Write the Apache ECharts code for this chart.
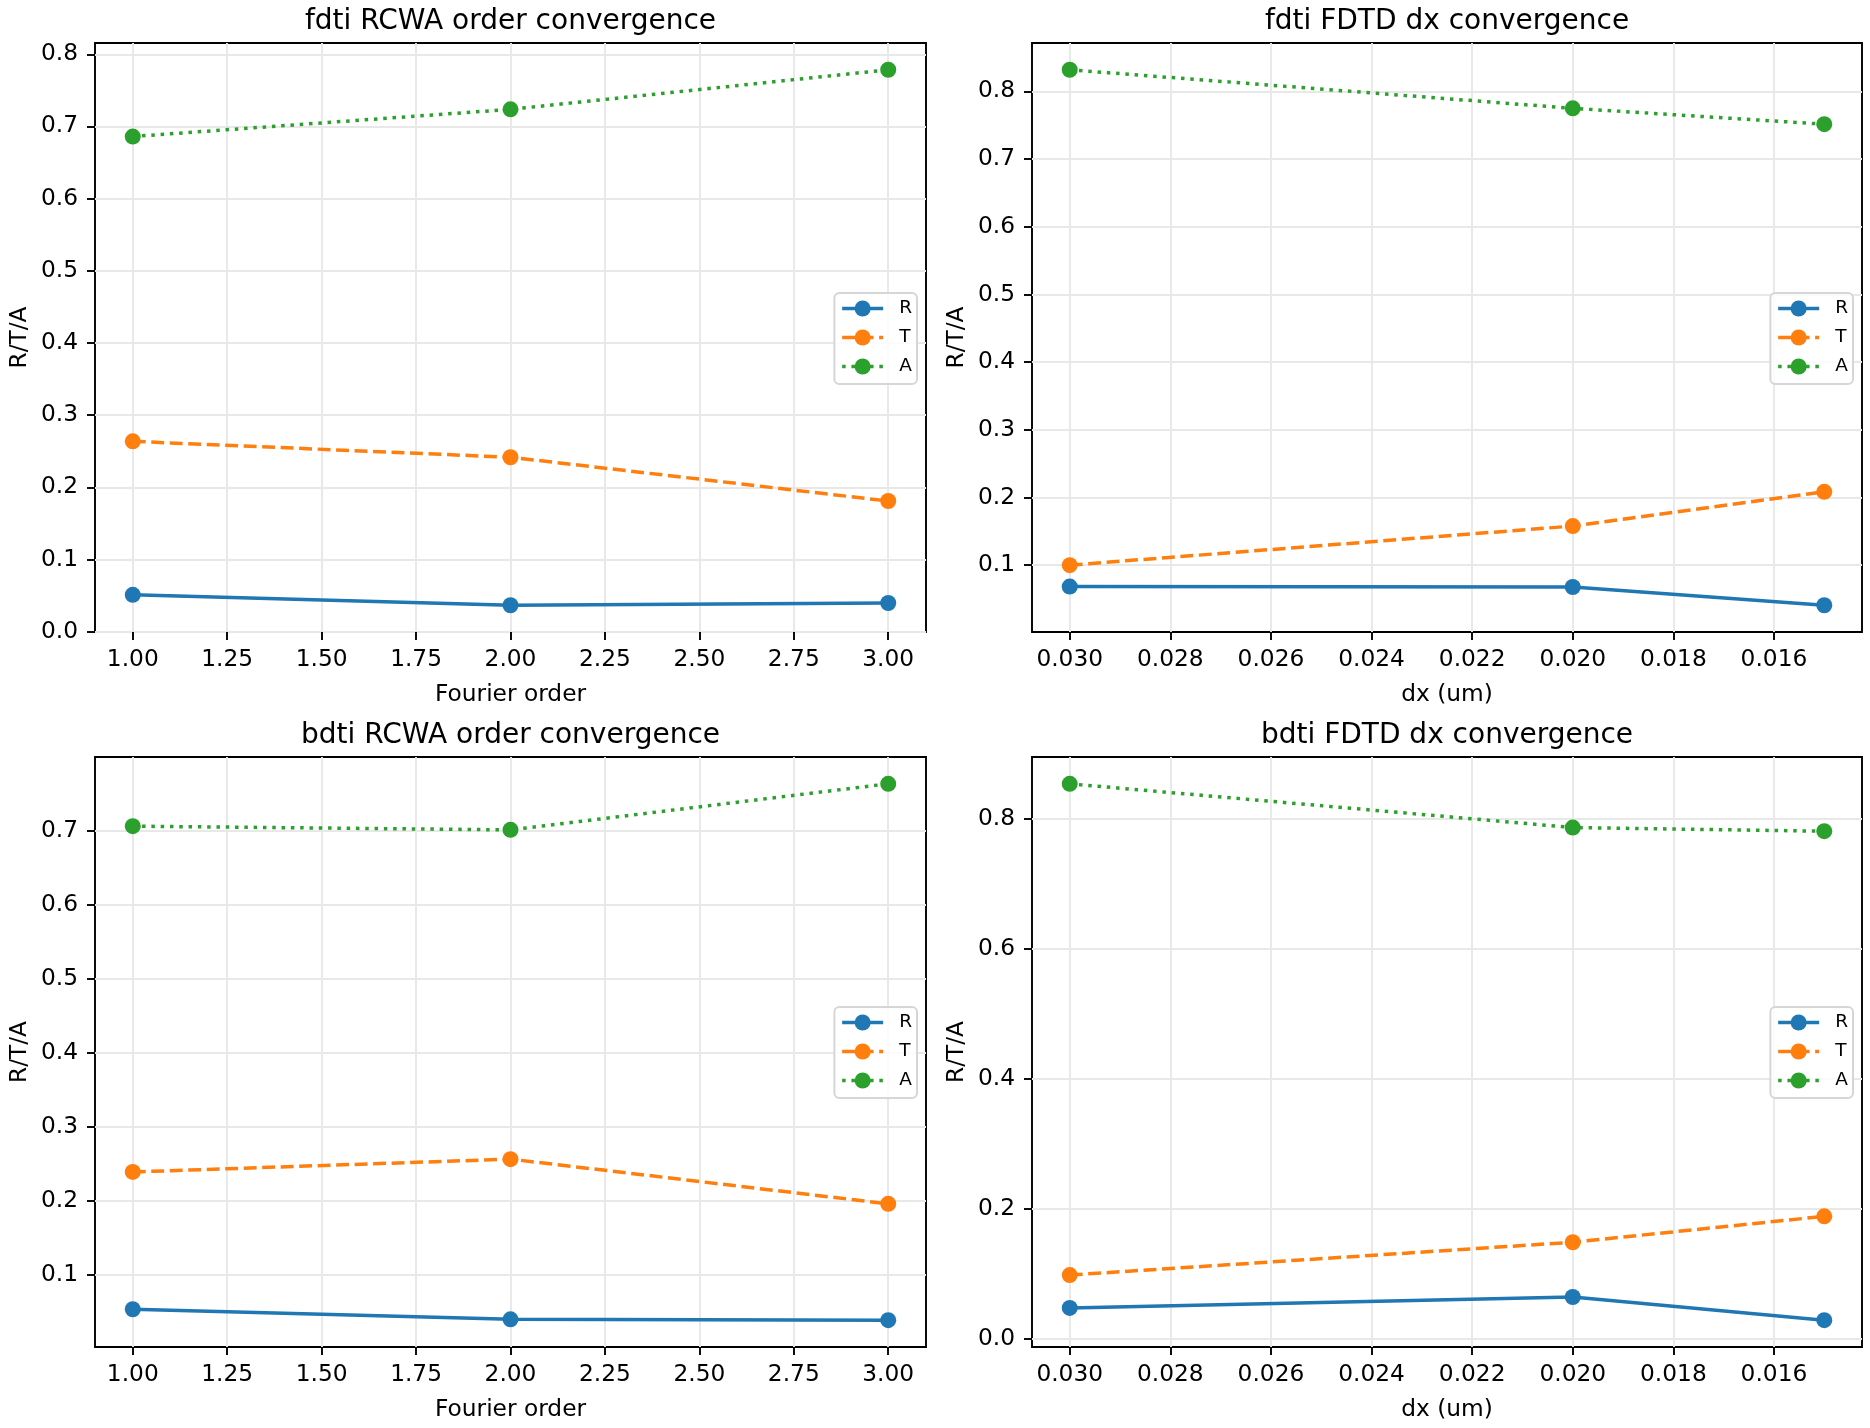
<!DOCTYPE html>
<html><head><meta charset="utf-8">
<script src="https://cdn.jsdelivr.net/npm/echarts@6/dist/echarts.min.js"></script>
<style>html,body{margin:0;padding:0;background:#fff}#c{width:1870px;height:1428px}</style>
</head><body><div id="c"></div>
<script>
// ---- data ----
const seriesNames = ['R', 'T', 'A'];
const fourierOrders = [1, 2, 3];
const dxValues = [0.03, 0.02, 0.015];

const fdtiRcwaR = [0.0510, 0.0366, 0.0397];
const fdtiRcwaT = [0.2637, 0.2416, 0.1810];
const fdtiRcwaA = [0.6860, 0.7237, 0.7785];

const fdtiFdtdR = [0.0684, 0.0677, 0.0408];
const fdtiFdtdT = [0.1000, 0.1578, 0.2083];
const fdtiFdtdA = [0.8320, 0.7750, 0.7516];

const bdtiRcwaR = [0.0538, 0.0402, 0.0390];
const bdtiRcwaT = [0.2392, 0.2565, 0.1961];
const bdtiRcwaA = [0.7062, 0.7012, 0.7634];

const bdtiFdtdR = [0.0477, 0.0645, 0.0288];
const bdtiFdtdT = [0.0982, 0.1487, 0.1886];
const bdtiFdtdA = [0.8540, 0.7867, 0.7811];

const fourierTicks = [1.00, 1.25, 1.50, 1.75, 2.00, 2.25, 2.50, 2.75, 3.00];
const dxTicks = [0.016, 0.018, 0.020, 0.022, 0.024, 0.026, 0.028, 0.030];
const yTicksTenth = [0.0, 0.1, 0.2, 0.3, 0.4, 0.5, 0.6, 0.7, 0.8];
const yTicksFifth = [0.0, 0.2, 0.4, 0.6, 0.8];

const panelTitles = ['fdti RCWA order convergence', 'fdti FDTD dx convergence',
                     'bdti RCWA order convergence', 'bdti FDTD dx convergence'];
const xAxisNames = ['Fourier order', 'dx (um)', 'Fourier order', 'dx (um)'];
const yAxisName = 'R/T/A';

// ---- styling / layout ----
const colors = ['#1f77b4', '#ff7f0e', '#2ca02c'];
const dashes = ['solid', [12.9, 5.6], [3.5, 5.8]];
const FONT = 'DejaVu Sans';

const panels = [
  {xs: fourierOrders, xt: fourierTicks, xd: 2, inv: false, yt: yTicksTenth, ys: [fdtiRcwaR, fdtiRcwaT, fdtiRcwaA]},
  {xs: dxValues, xt: dxTicks, xd: 3, inv: true, yt: yTicksTenth, ys: [fdtiFdtdR, fdtiFdtdT, fdtiFdtdA]},
  {xs: fourierOrders, xt: fourierTicks, xd: 2, inv: false, yt: yTicksTenth, ys: [bdtiRcwaR, bdtiRcwaT, bdtiRcwaA]},
  {xs: dxValues, xt: dxTicks, xd: 3, inv: true, yt: yTicksFifth, ys: [bdtiFdtdR, bdtiFdtdT, bdtiFdtdA]}
];
const gLeft = [95, 1032], gWidth = [831, 830], gTop = [43, 757], gHeight = [589, 590];

function lim(arr) {
  const mn = Math.min.apply(null, arr), mx = Math.max.apply(null, arr);
  const m = (mx - mn) * 0.05;
  return [mn - m, mx + m];
}

const grids = [], xAxes = [], yAxes = [], series = [], legends = [], graphics = [];
panels.forEach((p, i) => {
  const col = i % 2, row = Math.floor(i / 2);
  const L = gLeft[col], T = gTop[row], W = gWidth[col], H = gHeight[row];
  grids.push({left: L, top: T, width: W, height: H, show: true, borderColor: '#000',
              borderWidth: 1.9, backgroundColor: 'transparent', containLabel: false});
  const xl = lim(p.xs);
  const yl = lim([].concat(p.ys[0], p.ys[1], p.ys[2]));
  const tickStyle = {show: true, inside: false, length: 8, lineStyle: {color: '#000', width: 1.9}};
  const labStyle = {color: '#000', fontSize: 23.3, fontFamily: FONT};
  xAxes.push({type: 'value', gridIndex: i, min: xl[0], max: xl[1], inverse: p.inv,
    axisLine: {show: false, onZero: false},
    axisTick: Object.assign({customValues: p.xt}, tickStyle),
    axisLabel: Object.assign({customValues: p.xt, margin: 16, formatter: v => Number(v).toFixed(p.xd)}, labStyle),
    splitLine: {show: true, lineStyle: {color: '#e8e8e8', width: 1.9}}});
  yAxes.push({type: 'value', gridIndex: i, min: yl[0], max: yl[1],
    axisLine: {show: false, onZero: false},
    axisTick: Object.assign({customValues: p.yt}, tickStyle),
    axisLabel: Object.assign({customValues: p.yt, margin: 17, formatter: v => Number(v).toFixed(1)}, labStyle),
    splitLine: {show: true, lineStyle: {color: '#e8e8e8', width: 1.9}}});
  p.ys.forEach((vals, k) => {
    series.push({type: 'line', name: seriesNames[k], xAxisIndex: i, yAxisIndex: i,
      data: p.xs.map((x, j) => [x, vals[j]]),
      symbol: 'circle', symbolSize: 16, showSymbol: true,
      lineStyle: {color: colors[k], width: 3.5, type: dashes[k]},
      itemStyle: {color: colors[k], borderWidth: 0},
      emphasis: {disabled: true}, animation: false});
  });
  legends.push({orient: 'vertical', right: 1870 - (L + W - 9), top: T + 250, data: seriesNames,
    itemWidth: 41, itemHeight: 20, itemGap: 10, padding: [6, 5, 8, 6],
    backgroundColor: 'rgba(255,255,255,0.8)', borderColor: '#d6d6d6', borderWidth: 2, borderRadius: 5,
    lineStyle: {width: 3.5}, selectedMode: false,
    textStyle: {fontSize: 18.5, fontFamily: FONT, color: '#000', padding: [0, 0, 0, 11]}});
  const cx = L + W / 2;
  graphics.push({type: 'text', x: cx, y: T - 21, style: {text: panelTitles[i], fontSize: 28, fontFamily: FONT,
    fill: '#000', align: 'center', verticalAlign: 'middle', textAlign: 'center', textVerticalAlign: 'middle'}});
  graphics.push({type: 'text', x: cx, y: T + H + 63, style: {text: xAxisNames[i], fontSize: 23.3, fontFamily: FONT,
    fill: '#000', align: 'center', verticalAlign: 'middle', textAlign: 'center', textVerticalAlign: 'middle'}});
  graphics.push({type: 'text', x: L - 75, y: T + H / 2, rotation: Math.PI / 2, style: {text: yAxisName, fontSize: 23.3,
    fontFamily: FONT, fill: '#000', align: 'center', verticalAlign: 'middle', textAlign: 'center', textVerticalAlign: 'middle'}});
});

const chart = echarts.init(document.getElementById('c'));
chart.setOption({
  animation: false,
  backgroundColor: '#fff',
  textStyle: {fontFamily: FONT},
  grid: grids, xAxis: xAxes, yAxis: yAxes, series: series, legend: legends,
  graphic: {elements: graphics}
});
</script></body></html>
